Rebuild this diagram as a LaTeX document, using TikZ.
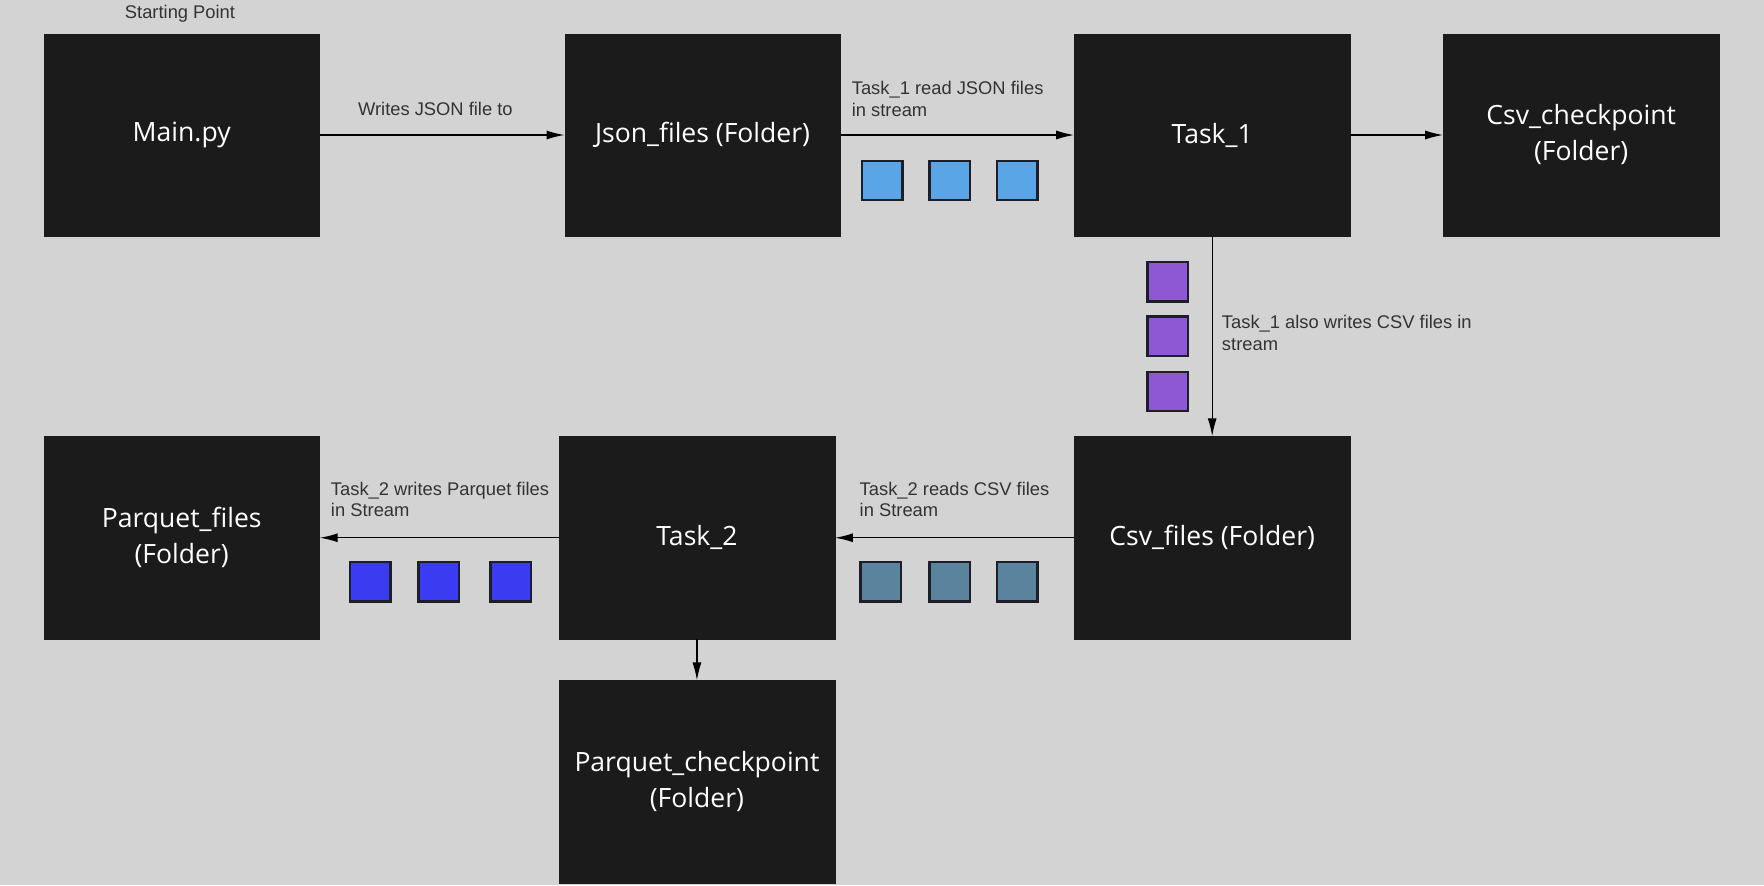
\documentclass[tikz,border=0pt]{standalone}
\usepackage{fontspec}
\setmainfont{Liberation Sans}
\newfontfamily\boxfont{Open Sans}
\usetikzlibrary{arrows.meta}
\definecolor{bgc}{HTML}{D3D3D3}
\definecolor{boxc}{HTML}{1B1B1B}
\definecolor{lblc}{HTML}{333333}
\definecolor{sqb}{HTML}{1E1E28}
\definecolor{cLight}{HTML}{5AA5E6}
\definecolor{cPurple}{HTML}{8E57D3}
\definecolor{cBlue}{HTML}{3B3BF2}
\definecolor{cTeal}{HTML}{5A849E}
\begin{document}
\begin{tikzpicture}[x=1pt,y=-1pt,
  bigbox/.style={fill=boxc,draw=boxc,minimum width=245pt,minimum height=180pt,inner sep=0pt,
    text=white,font=\boxfont\fontsize{23.6}{32}\selectfont,align=center},
  lbl/.style={text=lblc,font=\fontsize{16.3}{19}\selectfont,inner sep=0pt},
  lbll/.style={lbl,align=left,anchor=west},
  sq/.style={draw=sqb,line width=2.2pt,minimum width=36pt,minimum height=35pt,inner sep=0pt},
  arr/.style={draw=black,line width=1.2pt,-{Latex[length=16pt,width=8pt]}}]
\fill[bgc] (0,0) rectangle (1568,787);
\useasboundingbox (0,0) rectangle (1568,787);
% boxes
\node[bigbox] (main) at (161.5,120) {Main.py};
\node[bigbox] (json) at (624.5,120) {Json\_files (Folder)};
\node[bigbox] (task1) at (1077.5,120) {Task\_1};
\node[bigbox] (csvck) at (1405.5,120) {Csv\_checkpoint\\(Folder)};
\node[bigbox] (csvf) at (1077.5,478) {Csv\_files (Folder)};
\node[bigbox] (task2) at (619.5,478) {Task\_2};
\node[bigbox] (parqf) at (161.5,478) {Parquet\_files\\(Folder)};
\node[bigbox] (parqck) at (619.5,695) {Parquet\_checkpoint\\(Folder)};
% labels
\node[lbl] (start) at (160,12) {Starting Point};
\node[lbl] (l1) at (387,97) {Writes JSON file to};
\node[lbll] (l2) at (757,88) {Task\_1 read JSON files\\in stream};
\node[lbll] (l3) at (1086,296) {Task\_1 also writes CSV files in\\stream};
\node[lbll] (l4) at (764,444) {Task\_2 reads CSV files\\in Stream};
\node[lbll] (l5) at (294,444) {Task\_2 writes Parquet files\\in Stream};
% connectors
\draw[arr] (main) -- (json);
\draw[arr] (json) -- (task1);
\draw[arr] (task1) -- (csvck);
\draw[arr] (task1) -- (csvf);
\draw[arr] (csvf) -- (task2);
\draw[arr] (task2) -- (parqf);
\draw[arr] (task2) -- (parqck);
% squares
\node[sq,fill=cLight] (a1) at (784,160.5) {};
\node[sq,fill=cLight] (a2) at (844,160.5) {};
\node[sq,fill=cLight] (a3) at (904,160.5) {};
\node[sq,fill=cPurple] (b1) at (1038,250.5) {};
\node[sq,fill=cPurple] (b2) at (1038,299) {};
\node[sq,fill=cPurple] (b3) at (1038,348) {};
\node[sq,fill=cBlue] (c1) at (329,517) {};
\node[sq,fill=cBlue] (c2) at (390,517) {};
\node[sq,fill=cBlue] (c3) at (454,517) {};
\node[sq,fill=cTeal] (d1) at (783,517) {};
\node[sq,fill=cTeal] (d2) at (844,517) {};
\node[sq,fill=cTeal] (d3) at (904,517) {};
\end{tikzpicture}
\end{document}
